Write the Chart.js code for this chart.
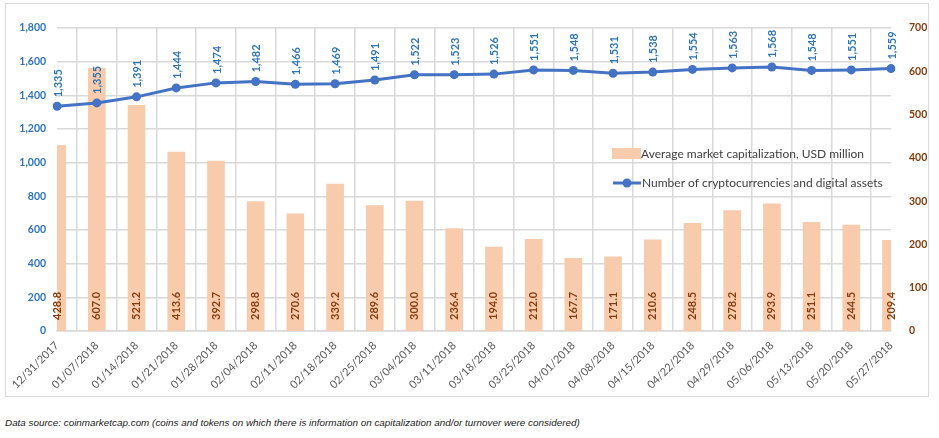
<!DOCTYPE html>
<html>
<head>
<meta charset="utf-8">
<script src="https://cdn.jsdelivr.net/npm/chart.js@4.4.1/dist/chart.umd.min.js"></script>
<style>
    html, body { margin: 0; padding: 0; background: #ffffff; }
    body { width: 939px; height: 438px; position: relative; overflow: hidden; }
    .frame {
        position: absolute; left: 5px; top: 3px;
        width: 922px; height: 392px;
        border: 1px solid #d9d9d9;
    }
    .frame canvas { display: block; }
    .source {
        position: absolute; left: 5px; top: 417px;
        font-family: "Liberation Sans", Arial, sans-serif;
        font-style: italic; font-size: 9.9px; color: #222222;
        white-space: nowrap;
    }
</style>
</head>
<body>
<div class="frame"><canvas id="cryptoChart" width="922" height="392"></canvas></div>
<div class="source">Data source: coinmarketcap.com (coins and tokens on which there is information on capitalization and/or turnover were considered)</div>

<script>
const weeks = [
    "12/31/2017", "01/07/2018", "01/14/2018", "01/21/2018", "01/28/2018", "02/04/2018",
    "02/11/2018", "02/18/2018", "02/25/2018", "03/04/2018", "03/11/2018", "03/18/2018",
    "03/25/2018", "04/01/2018", "04/08/2018", "04/15/2018", "04/22/2018", "04/29/2018",
    "05/06/2018", "05/13/2018", "05/20/2018", "05/27/2018"
];

const avgMarketCap = [
    428.8, 607.0, 521.2, 413.6, 392.7, 298.8, 270.6, 339.2, 289.6, 300.0, 236.4,
    194.0, 212.0, 167.7, 171.1, 210.6, 248.5, 278.2, 293.9, 251.1, 244.5, 209.4
];

const assetCount = [
    1335, 1355, 1391, 1444, 1474, 1482, 1466, 1469, 1491, 1522, 1523,
    1526, 1551, 1548, 1531, 1538, 1554, 1563, 1568, 1548, 1551, 1559
];

const barLabel = "Average market capitalization, USD million";
const lineLabel = "Number of cryptocurrencies and digital assets";

const blue = "#2e75b6";
const brown = "#843c0c";
const peach = "#f8cbad";
const lineBlue = "#4472c4";
const gridGray = "#d9d9d9";
const fontName = "Lato, 'Open Sans', sans-serif";

// value labels, rotated like the excel original
const valueLabels = {
    id: "valueLabels",
    afterDatasetsDraw(chart) {
        const ctx = chart.ctx;
        const base = chart.scales.y2.getPixelForValue(0);
        ctx.save();
        ctx.textBaseline = "middle";
        ctx.textAlign = "left";

        ctx.font = "bold 11px " + fontName;
        ctx.fillStyle = brown;
        chart.getDatasetMeta(1).data.forEach((bar, i) => {
            ctx.save();
            ctx.translate(bar.x, base - 11);
            ctx.rotate(-Math.PI / 2);
            ctx.fillText(avgMarketCap[i].toFixed(1), 0, 0);
            ctx.restore();
        });

        ctx.fillStyle = blue;
        chart.getDatasetMeta(0).data.forEach((pt, i) => {
            ctx.save();
            ctx.translate(pt.x + 1, pt.y - 9);
            ctx.rotate(-Math.PI / 2);
            ctx.fillText(assetCount[i].toLocaleString("en-US"), 0, 0);
            ctx.restore();
        });
        ctx.restore();
    }
};

// legend sits inside the plot area
const innerLegend = {
    id: "innerLegend",
    afterDraw(chart) {
        const ctx = chart.ctx;
        ctx.save();
        ctx.fillStyle = peach;
        ctx.fillRect(606, 144, 29, 11);

        ctx.strokeStyle = lineBlue;
        ctx.lineWidth = 3;
        ctx.beginPath();
        ctx.moveTo(607, 179);
        ctx.lineTo(635, 179);
        ctx.stroke();
        ctx.fillStyle = lineBlue;
        ctx.beginPath();
        ctx.arc(621, 179, 4.5, 0, Math.PI * 2);
        ctx.fill();

        ctx.font = "12px " + fontName;
        ctx.fillStyle = "#404040";
        ctx.textBaseline = "middle";
        ctx.fillText(barLabel, 635, 150);
        ctx.fillText(lineLabel, 636, 179);
        ctx.restore();
    }
};

const ctx = document.getElementById("cryptoChart").getContext("2d");

new Chart(ctx, {
    type: "bar",
    data: {
        labels: weeks,
        datasets: [
            {
                type: "line",
                label: lineLabel,
                data: assetCount,
                yAxisID: "y",
                borderColor: lineBlue,
                backgroundColor: lineBlue,
                borderWidth: 3,
                pointRadius: 4.5,
                pointBackgroundColor: lineBlue,
                pointBorderWidth: 0,
                tension: 0,
                order: 0
            },
            {
                type: "bar",
                label: barLabel,
                data: avgMarketCap,
                yAxisID: "y2",
                backgroundColor: peach,
                barThickness: 17,
                clip: 0,
                order: 1
            }
        ]
    },
    options: {
        responsive: false,
        animation: false,
        layout: { padding: { top: 24, left: 0, right: 0, bottom: 0 } },
        plugins: {
            legend: { display: false },
            tooltip: { enabled: false }
        },
        scales: {
            x: {
                offset: false,
                grid: { color: gridGray, lineWidth: 1.5, drawTicks: false },
                border: { color: gridGray, width: 1.5 },
                ticks: {
                    autoSkip: false,
                    minRotation: 45,
                    maxRotation: 45,
                    padding: 8,
                    color: "#595959",
                    font: { family: fontName, size: 11 }
                },
                afterFit(scale) { scale.height = 65; }
            },
            y: {
                position: "left",
                min: 0,
                max: 1800,
                grid: { color: gridGray, lineWidth: 1.5, drawTicks: false },
                border: { display: false },
                ticks: {
                    stepSize: 200,
                    padding: 11,
                    color: blue,
                    font: { family: fontName, size: 10.5, weight: "bold" },
                    callback: (v) => v.toLocaleString("en-US")
                },
                afterFit(scale) { scale.width = 43; }
            },
            y2: {
                position: "right",
                min: 0,
                max: 700,
                grid: { display: false },
                border: { display: false },
                ticks: {
                    stepSize: 100,
                    padding: 10,
                    color: brown,
                    font: { family: fontName, size: 10.5, weight: "bold" }
                },
                afterFit(scale) { scale.width = 37; }
            }
        }
    },
    plugins: [valueLabels, innerLegend]
});
</script>
</body>
</html>
